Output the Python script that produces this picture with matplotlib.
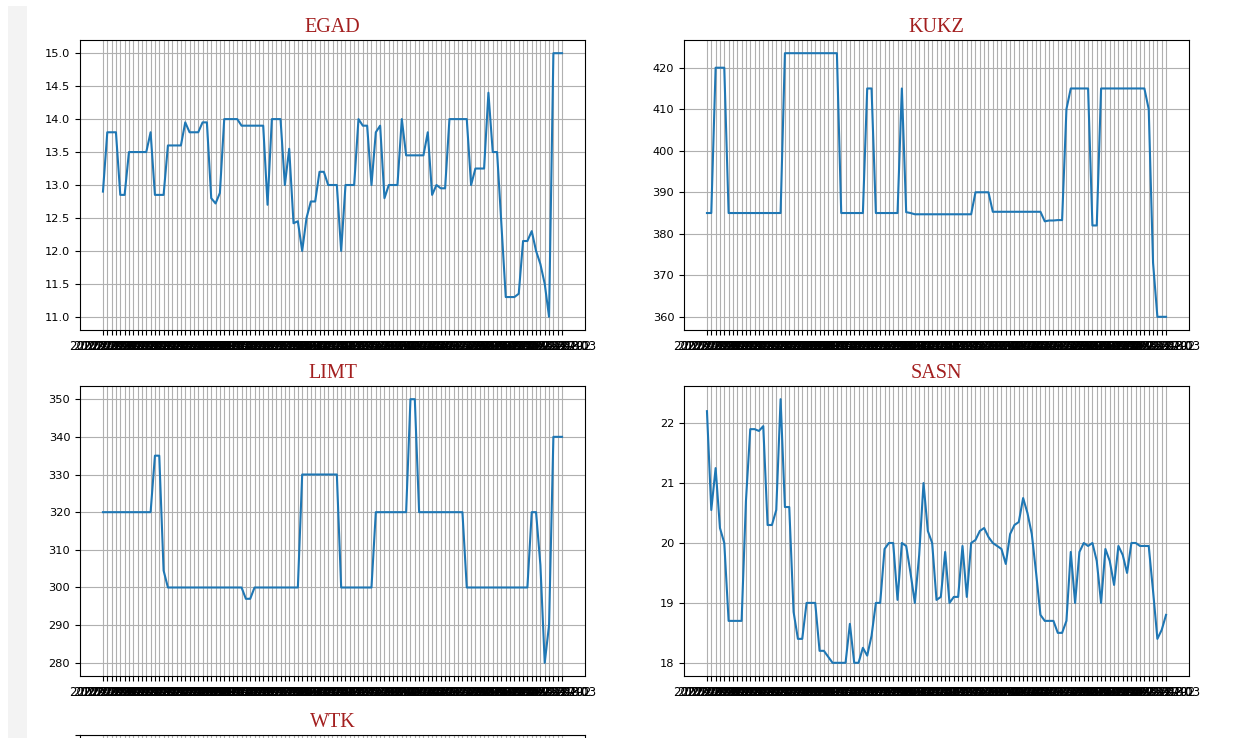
import numpy as np
import pandas as pd
import matplotlib
matplotlib.use("Agg")
import matplotlib.pyplot as plt
from matplotlib.patches import Rectangle

# ================================
# DATA
# ================================
DATES = pd.bdate_range("2022-08-08", periods=107).strftime("%Y-%m-%d").tolist()

EGAD = ([12.9] + [13.8] * 3 + [12.85] * 2 + [13.5] * 5 + [13.8] + [12.85] * 3
        + [13.6] * 4 + [13.95] + [13.8] * 3 + [13.95] * 2 + [12.8, 12.72, 12.88]
        + [14.0] * 4 + [13.9] * 6 + [12.7] + [14.0] * 3
        + [13.0, 13.55, 12.42, 12.45, 12.0, 12.5, 12.75, 12.75, 13.2, 13.2]
        + [13.0] * 3 + [12.0] + [13.0] * 3 + [14.0, 13.9, 13.9, 13.0, 13.8, 13.9, 12.8]
        + [13.0] * 3 + [14.0] + [13.45] * 5 + [13.8, 12.85, 13.0, 12.95, 12.95]
        + [14.0] * 5 + [13.0] + [13.25] * 3 + [14.4, 13.5, 13.5, 12.4]
        + [11.3] * 3 + [11.35, 12.15, 12.15, 12.3, 12.0, 11.8, 11.5, 11.0] + [15.0] * 3)

KUKZ = ([385.0] * 2 + [420.0] * 3 + [385.0] * 13 + [423.5] * 13 + [385.0] * 6
        + [415.0] * 2 + [385.0] * 6 + [415.0, 385.2, 385.0] + [384.7] * 14
        + [390.0] * 4 + [385.3] * 12 + [383.0, 383.2, 383.2, 383.3, 383.3, 410.0]
        + [415.0] * 5 + [382.0] * 2 + [415.0] * 11 + [410.0, 373.0] + [360.0] * 3)

LIMT = ([320.0] * 12 + [335.0] * 2 + [304.5] + [300.0] * 18 + [297.0] * 2
        + [300.0] * 11 + [330.0] * 9 + [300.0] * 8 + [320.0] * 8 + [350.0] * 2
        + [320.0] * 11 + [300.0] * 15 + [320.0] * 2 + [306.0, 280.0, 290.0] + [340.0] * 3)

SASN = [22.2, 20.55, 21.25, 20.25, 20.0, 18.7, 18.7, 18.7, 18.7, 20.7,
        21.9, 21.9, 21.87, 21.95, 20.3, 20.3, 20.55, 22.4, 20.6, 20.6,
        18.85, 18.4, 18.4, 19.0, 19.0, 19.0, 18.2, 18.2, 18.1, 18.0,
        18.0, 18.0, 18.0, 18.65, 18.0, 18.0, 18.25, 18.12, 18.45, 19.0,
        19.0, 19.9, 20.0, 20.0, 19.05, 20.0, 19.95, 19.5, 19.0, 19.8,
        21.0, 20.2, 20.0, 19.05, 19.1, 19.85, 19.0, 19.1, 19.1, 19.95,
        19.1, 20.0, 20.05, 20.2, 20.25, 20.1, 20.0, 19.95, 19.9, 19.65,
        20.15, 20.3, 20.35, 20.75, 20.5, 20.15, 19.5, 18.8, 18.7, 18.7,
        18.7, 18.5, 18.5, 18.7, 19.85, 19.0, 19.85, 20.0, 19.95, 20.0,
        19.7, 19.0, 19.9, 19.7, 19.3, 19.95, 19.8, 19.5, 20.0, 20.0,
        19.95, 19.95, 19.95, 19.2, 18.4, 18.55, 18.8]

TICKERS = ["EGAD", "KUKZ", "LIMT", "SASN", "WTK"]
SERIES = {"EGAD": EGAD, "KUKZ": KUKZ, "LIMT": LIMT, "SASN": SASN}

# ================================
# LAYOUT (pixels of the 1244x738 canvas)
# ================================
W, H = 1244, 738
LEFTS = [80, 684]
TOPS = [40, 386, 735]
AX_W, AX_H = 505, 290
TITLE_COLOR = "#a31f1f"

fig = plt.figure(figsize=(W / 100, H / 100), dpi=100)
fig.patch.set_facecolor("white")

# notebook gutter on the left
fig.patches.append(Rectangle((8 / W, 0), 19 / W, 1 - 6 / H, transform=fig.transFigure,
                             facecolor="#f3f3f3", edgecolor="none", zorder=0))

for i, name in enumerate(TICKERS):
    row, col = divmod(i, 2)
    left = LEFTS[col] / W
    bottom = 1 - (TOPS[row] + AX_H) / H
    ax = fig.add_axes([left, bottom, AX_W / W, AX_H / H])

    if name in SERIES:
        ax.plot(DATES, SERIES[name], color="#1f77b4", linewidth=1.5)
    else:
        # only the top edge of this panel is inside the screenshot
        ax.set_xticks(range(len(DATES)))
        ax.set_xlim(-0.05 * (len(DATES) - 1), (len(DATES) - 1) * 1.05)
        ax.tick_params(labelbottom=False, labelleft=False)

    ax.set_title(name, family=["Liberation Serif"], fontsize=14.5, color=TITLE_COLOR)
    ax.grid(True)
    ax.tick_params(axis="y", labelsize=8.2)
    ax.tick_params(axis="x", labelsize=8.5)

fig.savefig("out.png", dpi=100)
